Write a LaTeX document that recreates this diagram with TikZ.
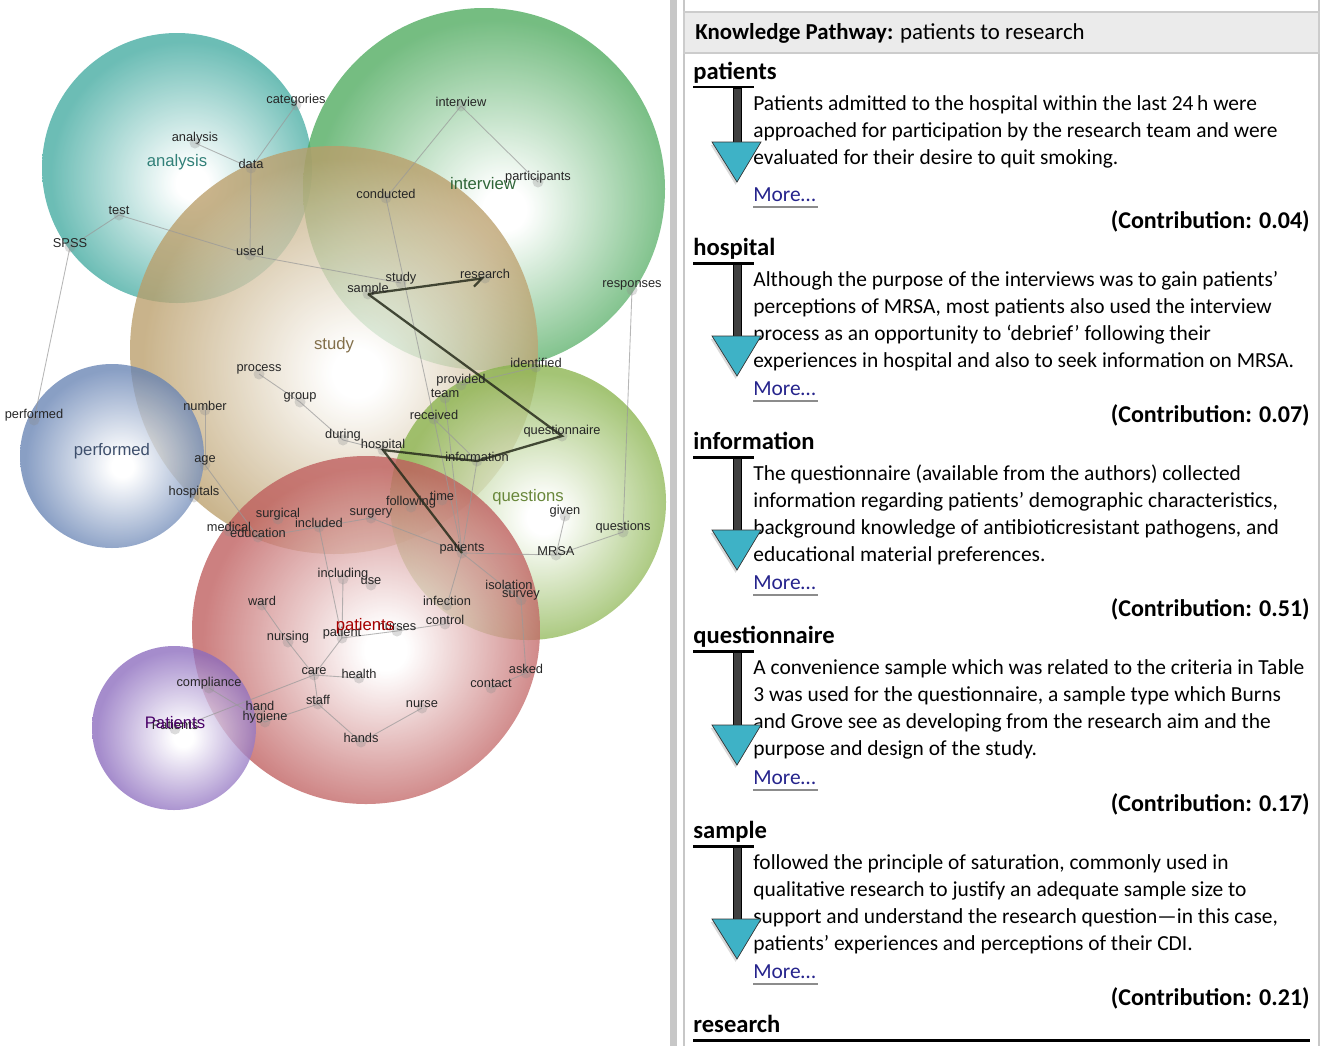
\documentclass[tikz,border=0pt]{standalone}
\usepackage{fontspec}
\setmainfont{Carlito}
\newfontfamily\mapfont{Liberation Sans}
\usetikzlibrary{arrows.meta,shadows}

\definecolor{analysiscol}{RGB}{66,170,160}
\definecolor{interviewcol}{RGB}{78,170,94}
\definecolor{studycol}{RGB}{186,158,106}
\definecolor{performedcol}{RGB}{104,132,180}
\definecolor{questionscol}{RGB}{138,180,78}
\definecolor{patientscol}{RGB}{190,92,92}
\definecolor{purplecol}{RGB}{140,108,190}
\definecolor{pathcol}{RGB}{40,45,28}
\definecolor{arrowhead}{RGB}{62,178,198}
\definecolor{morecol}{RGB}{38,36,140}

% bubble shading, highlight a little right of and below the centre
\pgfdeclareradialshading[bubcol]{bubble}{\pgfqpoint{3bp}{-3bp}}{%
  color(0bp)=(white); color(3bp)=(white); color(25bp)=(bubcol); color(50bp)=(bubcol)}

\tikzset{
  bubble/.style={shading=bubble, /utils/exec={\colorlet{bubcol}{#1}}, fill opacity=0.78},
  term/.style={font=\mapfont\fontsize{7.3}{8}\selectfont, text=black!85, inner sep=0.5pt, yshift=2.5pt},
  termdot/.style={fill=black!45, fill opacity=0.3},
  clusterlabel/.style={font=\mapfont\fontsize{9.5}{11}\selectfont, inner sep=0.5pt},
  lightedge/.style={draw=black!40, line width=0.5pt, opacity=0.7},
  pathedge/.style={draw=pathcol, line width=1.3pt, opacity=0.85},
  bodytext/.style={anchor=base west, font=\fontsize{12.2}{14}\selectfont, inner sep=0pt, text=black},
  steptitle/.style={anchor=base west, font=\bfseries\fontsize{14}{16}\selectfont, inner sep=0pt},
  titlebar/.style={draw=black, line width=1.7pt},
  contrib/.style={anchor=base east, font=\bfseries\fontsize{13.7}{15}\selectfont, inner sep=0pt},
  moretext/.style={anchor=base west, font=\fontsize{12.2}{14}\selectfont, inner sep=0pt, text=morecol},
  moreline/.style={draw=black!45, line width=0.8pt},
}

% #1 title y, #2 "More" y, #3 title, #4 contribution
\newcommand{\pathstep}[4]{%
  \node[steptitle] (title-#3) at (693,#1+6) {#3};
  \draw[titlebar] (693,#1+14) -- (754,#1+14);
  \filldraw[fill=black!75, draw=black, line width=0.4pt] (733,#1+15) rectangle (741,#2-53);
  \filldraw[fill=arrowhead, draw=black!80, line width=0.4pt,
    drop shadow={shadow xshift=-0.8pt, shadow yshift=-1.6pt, opacity=0.3}]
    (712,#2-53) -- (761,#2-53) -- (737,#2-13) -- cycle;
  \node[moretext] (more-#3) at (753,#2+6) {More…};
  \draw[moreline] (753,#2+12) -- (818,#2+12);
  \node[contrib] (contrib-#3) at (1310,#2+33) {(Contribution: #4)};
}

\begin{document}
\begin{tikzpicture}[x=0.02cm, y=-0.02cm]
  \useasboundingbox (0,0) rectangle (1327,1045);

  % clusters
  \shade[bubble=analysiscol] (177,168) circle (135);
  \shade[bubble=interviewcol] (484,189) circle (181);
  \shade[bubble=studycol] (334,350) circle (204);
  \shade[bubble=performedcol] (112,456) circle (92);
  \shade[bubble=questionscol] (528,502) circle (138);
  \shade[bubble=patientscol] (366,630) circle (174);
  \shade[bubble=purplecol] (174,728) circle (82);

  % terms
  \foreach \n/\x/\y in {categories/296/105, analysisw/195/143, data/251/168, test/119/215,
      SPSS/70/247, used/250/255, intervieww/461/106, participants/538/182, conducted/386/198,
      studyw/401/283, researchw/485/278, sample/368/294, responses/632/290, process/259/374,
      group/300/402, number/205/410, during/343/440, hospital/383/450, provided/461/385,
      team/445/398, received/434/419, identified/536/367, information/477/461,
      questionnaire/562/436, performedw/34/420, age/205/465, hospitals/194/497,
      following/411/507, time/442/500, surgery/371/518, given/565/516, questionsw/623/532,
      patientsw/462/553, MRSA/556/555, isolation/509/589, survey/521/600, infection/447/605,
      control/445/624, surgical/278/519, included/319/527, medical/229/531, education/258/537,
      including/343/579, use/371/585, ward/262/605, nursing/288/642, patient/342/638,
      nurses/397/631, care/314/675, health/359/678, staff/318/704, hand/260/710,
      hygiene/265/722, compliance/209/688, nurse/422/708, hands/361/742, contact/491/688,
      asked/526/673, patientsb/175/729}
    \coordinate (\n) at (\x,\y);

  \foreach \a/\b in {categories/data, analysisw/data, data/used, test/SPSS, test/used,
      used/studyw, SPSS/performedw, intervieww/conducted, intervieww/participants,
      conducted/received, received/information, received/patientsw, team/patientsw,
      provided/identified, information/patientsw, hospital/during, during/group,
      group/process, number/age, age/education, education/included, included/surgery,
      surgery/patientsw, included/patient, including/patient, patient/nurses,
      nurses/control, patientsw/infection, patientsw/survey, survey/asked, asked/contact,
      patientsw/MRSA, MRSA/given, MRSA/questionsw, questionsw/responses, ward/nursing,
      nursing/care, care/patient, care/health, care/staff, staff/hygiene, staff/hands,
      hands/nurse, compliance/hygiene, patientsb/care}
    \draw[lightedge] (\a) -- (\b);

  \foreach \n in {categories, analysisw, data, test, SPSS, used, intervieww, participants,
      conducted, studyw, researchw, sample, responses, process, group, number, during,
      hospital, provided, team, received, identified, information, questionnaire,
      performedw, age, hospitals, following, time, surgery, given, questionsw, patientsw,
      MRSA, isolation, survey, infection, control, surgical, included, medical, education,
      including, use, ward, nursing, patient, nurses, care, health, staff, hand, hygiene,
      compliance, nurse, hands, contact, asked, patientsb}
    \fill[termdot] (\n) circle (5.5);

  % knowledge pathway
  \draw[pathedge] (patientsw) -- (hospital) -- (information) -- (questionnaire) -- (sample);
  \draw[pathedge, -{Straight Barb[harpoon, swap, length=5pt, width=8pt]}] (sample) -- (researchw);

  \foreach \n/\t in {categories/categories, analysisw/analysis, data/data, test/test,
      SPSS/SPSS, used/used, intervieww/interview, participants/participants,
      conducted/conducted, studyw/study, researchw/research, sample/sample,
      responses/responses, process/process, group/group, number/number, during/during,
      hospital/hospital, provided/provided, team/team, received/received,
      identified/identified, information/information, questionnaire/questionnaire,
      performedw/performed, age/age, hospitals/hospitals, following/following, time/time,
      surgery/surgery, given/given, questionsw/questions, patientsw/patients, MRSA/MRSA,
      isolation/isolation, survey/survey, infection/infection, control/control,
      surgical/surgical, included/included, medical/medical, education/education,
      including/including, use/use, ward/ward, nursing/nursing, patient/patient,
      nurses/nurses, care/care, health/health, staff/staff, hand/hand, hygiene/hygiene,
      compliance/compliance, nurse/nurse, hands/hands, contact/contact, asked/asked,
      patientsb/Patients}
    \node[term] (\n-t) at (\n) {\t};

  \node[clusterlabel, text=analysiscol!75!black] (analysis-c) at (177,162) {analysis};
  \node[clusterlabel, text=interviewcol!60!black] (interview-c) at (483,184) {interview};
  \node[clusterlabel, text=studycol!70!black] (study-c) at (334,345) {study};
  \node[clusterlabel, text=performedcol!60!black] (performed-c) at (112,451) {performed};
  \node[clusterlabel, text=questionscol!75!black] (questions-c) at (528,497) {questions};
  \node[clusterlabel, text=red!65!black] (patients-c) at (365,626) {patients};
  \node[clusterlabel, text=blue!45!purple!70!black] (Patients-c) at (175,723) {Patients};

  % pathway panel
  \fill[black!22] (670,-5) rectangle (677,1050);
  \draw[black!22, line width=0.8pt] (684,-5) -- (684,1050);
  \draw[black!22, line width=0.8pt] (1319,-5) -- (1319,1050);
  \filldraw[fill=black!8, draw=black!20, line width=0.8pt] (684,12) rectangle (1319,53);
  \node[anchor=base west, inner sep=0pt, font=\fontsize{13}{15}\selectfont] (header) at (695,39)
    {\textbf{Knowledge Pathway:} patients to research};

  \node[bodytext] (p1) at (753,110) {Patients admitted to the hospital within the last 24\,h were};
  \node[bodytext] (p2) at (753,137) {approached for participation by the research team and were};
  \node[bodytext] (p3) at (753,164) {evaluated for their desire to quit smoking.};
  \pathstep{73}{195}{patients}{0.04}

  \node[bodytext] (h1) at (753,286) {Although the purpose of the interviews was to gain patients’};
  \node[bodytext] (h2) at (753,313) {perceptions of MRSA, most patients also used the interview};
  \node[bodytext] (h3) at (753,340) {process as an opportunity to ‘debrief’ following their};
  \node[bodytext] (h4) at (753,367) {experiences in hospital and also to seek information on MRSA.};
  \pathstep{249}{389}{hospital}{0.07}

  \node[bodytext] (i1) at (753,480) {The questionnaire (available from the authors) collected};
  \node[bodytext] (i2) at (753,507) {information regarding patients’ demographic characteristics,};
  \node[bodytext] (i3) at (753,534) {background knowledge of antibioticresistant pathogens, and};
  \node[bodytext] (i4) at (753,561) {educational material preferences.};
  \pathstep{443}{583}{information}{0.51}

  \node[bodytext] (q1) at (753,674) {A convenience sample which was related to the criteria in Table};
  \node[bodytext] (q2) at (753,701) {3 was used for the questionnaire, a sample type which Burns};
  \node[bodytext] (q3) at (753,728) {and Grove see as developing from the research aim and the};
  \node[bodytext] (q4) at (753,755) {purpose and design of the study.};
  \pathstep{637}{778}{questionnaire}{0.17}

  \node[bodytext] (s1) at (753,869) {followed the principle of saturation, commonly used in};
  \node[bodytext] (s2) at (753,896) {qualitative research to justify an adequate sample size to};
  \node[bodytext] (s3) at (753,923) {support and understand the research question—in this case,};
  \node[bodytext] (s4) at (753,950) {patients’ experiences and perceptions of their CDI.};
  \pathstep{832}{972}{sample}{0.21}

  \node[steptitle] (title-research) at (693,1032) {research};
  \draw[titlebar] (693,1040) -- (1310,1040);
\end{tikzpicture}
\end{document}
